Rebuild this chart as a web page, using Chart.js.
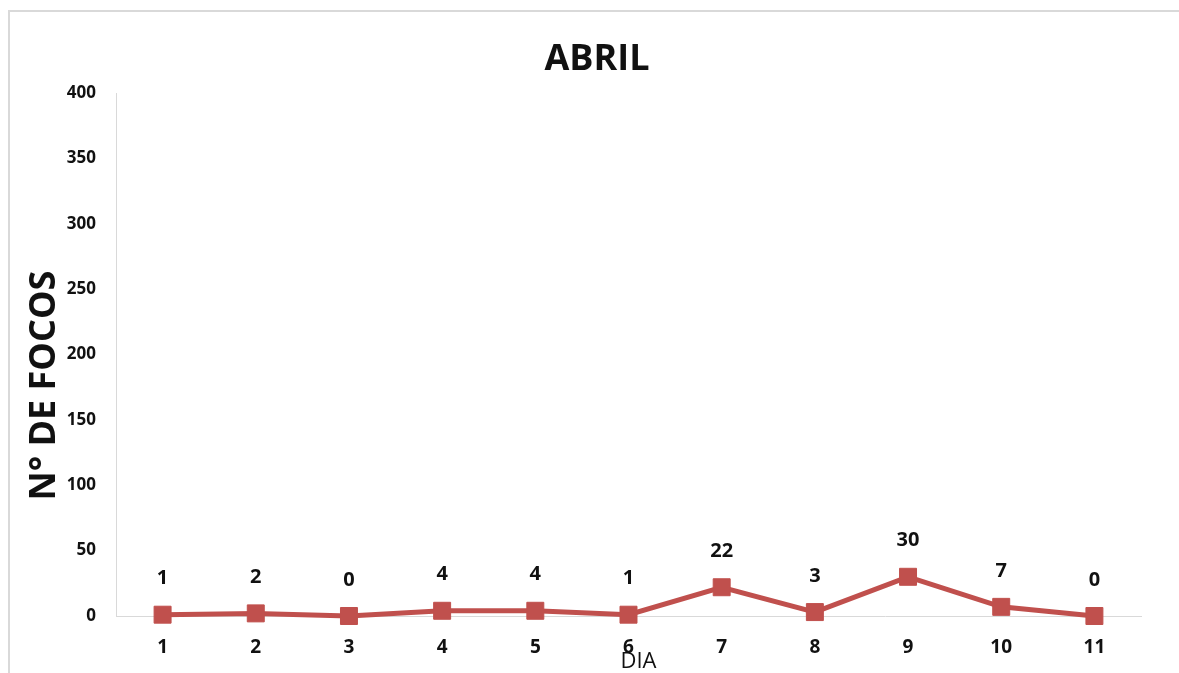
<!DOCTYPE html>
<html>
<head>
<meta charset="utf-8">
<script src="https://cdn.jsdelivr.net/npm/chart.js@4"></script>
<style>
  html, body { margin: 0; padding: 0; background: #fff; }
  #frame { position: absolute; left: 8px; top: 10px; width: 1200px; height: 700px;
           border-left: 2px solid #d9d9d9; border-top: 2px solid #d9d9d9; }
  #wrap { position: absolute; left: 0; top: 0; width: 1179px; height: 673px; }
</style>
</head>
<body>
<div id="frame"></div>
<div id="wrap"><canvas id="focoscanvas"></canvas></div>
<script>
var days = ['1', '2', '3', '4', '5', '6', '7', '8', '9', '10', '11'];
var focos = [1, 2, 0, 4, 4, 1, 22, 3, 30, 7, 0];
var yTicks = [0, 50, 100, 150, 200, 250, 300, 350, 400];

var FONT = "'Open Sans', 'Noto Sans', sans-serif";

// value labels above the points + axis titles where the original puts them
var extraText = {
  id: 'extraText',
  afterDatasetsDraw: function(chart) {
    var ctx = chart.ctx;
    var meta = chart.getDatasetMeta(0);
    ctx.save();
    ctx.fillStyle = '#111';
    ctx.font = 'bold 20px ' + FONT;
    ctx.textAlign = 'center';
    ctx.textBaseline = 'middle';
    meta.data.forEach(function(pt, i) {
      ctx.fillText(focos[i], pt.x, pt.y - 36);
    });

    var y = chart.scales.y;
    ctx.font = 'bold 36px ' + FONT;
    ctx.translate(45, (y.top + y.bottom) / 2 + 31);
    ctx.rotate(-Math.PI / 2);
    ctx.fillText('N° DE FOCOS', 0, 0);
    ctx.restore();

    ctx.save();
    ctx.fillStyle = '#111';
    ctx.font = '22px ' + FONT;
    ctx.textAlign = 'center';
    ctx.textBaseline = 'middle';
    var x = chart.scales.x;
    ctx.fillText('DIA', (x.left + x.right) / 2 + 10, 662);
    ctx.restore();
  }
};

var ctx = document.getElementById('focoscanvas');
var lineGraph = new Chart(ctx, {
  type: 'line',
  data: {
    labels: days,
    datasets: [{
      label: 'Focos',
      data: focos,
      borderColor: '#c0504d',
      backgroundColor: '#c0504d',
      borderWidth: 5,
      pointStyle: 'rect',
      pointRadius: 12,
      pointBorderWidth: 1,
      pointBackgroundColor: '#c0504d',
      pointBorderColor: '#c0504d',
      tension: 0,
      fill: false,
      clip: false
    }]
  },
  options: {
    responsive: true,
    maintainAspectRatio: false,
    animation: false,
    layout: { padding: { left: 53, right: 38, top: 0, bottom: 0 } },
    plugins: {
      legend: { display: false },
      tooltip: { enabled: false },
      title: {
        display: true,
        text: 'ABRIL',
        color: '#111',
        font: { family: FONT, size: 36, weight: 'bold' },
        padding: { top: 38, bottom: 12 }
      }
    },
    scales: {
      x: {
        offset: true,
        grid: { display: false, drawTicks: false },
        border: { display: true, color: '#d9d9d9', width: 1 },
        ticks: { color: '#111', padding: 20, font: { family: FONT, size: 19, weight: 'bold' } },
        afterFit: function(scale) { scale.height = 57; }
      },
      y: {
        min: 0,
        max: 400,
        grid: { display: false, drawTicks: false },
        border: { display: true, color: '#d9d9d9', width: 1 },
        afterBuildTicks: function(scale) {
          scale.ticks = yTicks.map(function(v) { return { value: v }; });
        },
        ticks: { color: '#111', padding: 20, font: { family: FONT, size: 17, weight: 'bold' } },
        afterFit: function(scale) { scale.width = 63; }
      }
    }
  },
  plugins: [extraText]
});
</script>
</body>
</html>
